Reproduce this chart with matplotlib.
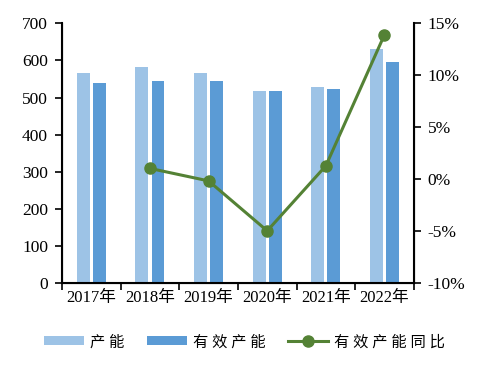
import numpy as np
import matplotlib
matplotlib.use('Agg')
from matplotlib import pyplot as plt

plt.rcParams['font.family'] = ['Liberation Serif', 'Noto Sans CJK SC']

years = ['2017年', '2018年', '2019年', '2020年', '2021年', '2022年']
capacity = [566, 582, 566, 518, 529, 631]
effective = [539, 544, 544, 518, 523, 596]
yoy_years = [1, 2, 3, 4, 5]
yoy = [1.05, -0.15, -4.95, 1.3, 13.9]

fig = plt.figure(figsize=(4.84, 3.69), dpi=100)
ax = fig.add_axes([0.128, 0.232, 0.727, 0.705])
x = np.arange(len(years))
w = 0.22
ax.bar(x - 0.137, capacity, w, color='#9DC3E6', label='产 能')
ax.bar(x + 0.137, effective, w, color='#5B9BD5', label='有 效 产 能')
ax.set_xlim(-0.5, len(years) - 0.5)
ax.set_ylim(0, 700)
ax.set_yticks(range(0, 701, 100))
ax.set_xticks(np.arange(-0.5, len(years), 1))
ax.set_xticklabels([])
ax.set_xticks(x, minor=True)
ax.set_xticklabels(years, minor=True)
ax.tick_params(axis='x', which='minor', length=0, pad=5, labelsize=12)
ax.tick_params(axis='x', which='major', length=5, width=1.2, direction='out')
ax.tick_params(axis='y', length=5, width=1.2, labelsize=12.5, pad=5)
ax.spines['top'].set_visible(False)
for s in ['left', 'bottom']:
    ax.spines[s].set_linewidth(1.5)

ax2 = ax.twinx()
ax2.plot(yoy_years, yoy, color='#548235', lw=2.2, marker='o', ms=8, label='有 效 产 能 同 比')
ax2.set_ylim(-10, 15)
ax2.set_yticks(range(-10, 16, 5))
ax2.set_yticklabels([f'{v}%' for v in range(-10, 16, 5)])
ax2.tick_params(axis='y', length=5, width=1.2, labelsize=12.5, pad=5)
ax2.spines['top'].set_visible(False)
ax2.spines['right'].set_linewidth(1.5)

h1, l1 = ax.get_legend_handles_labels()
h2, l2 = ax2.get_legend_handles_labels()
fig.legend(h1 + h2, l1 + l2, loc='center', bbox_to_anchor=(0.505, 0.073), ncol=3,
           frameon=False, fontsize=11, handlelength=2.6, handleheight=0.5,
           columnspacing=1.5, handletextpad=0.4)

fig.savefig('out.png', dpi=100)
